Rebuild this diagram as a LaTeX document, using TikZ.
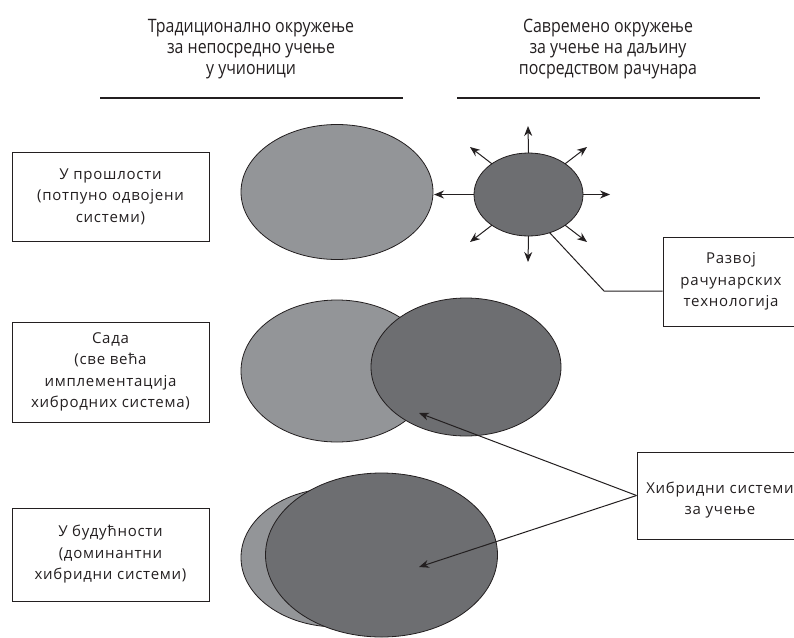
\documentclass[tikz,border=0pt]{standalone}
\usepackage{fontspec}
\setmainfont[LetterSpace=5]{Open Sans}
\newfontfamily\condfont[FakeStretch=0.86]{Open Sans}
\usetikzlibrary{arrows.meta,shapes.geometric}
\definecolor{lightg}{HTML}{939598}
\definecolor{darkg}{HTML}{6D6E71}
\definecolor{ink}{HTML}{231F20}
\tikzset{
  box/.style={draw=ink, line width=0.9pt, rectangle, inner sep=0pt, align=center, text=ink,
    font=\fontsize{15}{21.5}\selectfont},
  hdr/.style={align=center, text=ink, font=\condfont\fontsize{18.5}{21}\selectfont},
  ell/.style={draw=ink, line width=0.8pt, ellipse, inner sep=0pt, outer sep=0pt},
  arr/.style={draw=ink, line width=1pt, -{Stealth[length=10pt,width=8pt]}},
  conn/.style={draw=ink, line width=1pt}
}
\begin{document}
\begin{tikzpicture}[x=1pt,y=-1pt]
\useasboundingbox (0,0) rectangle (794,637);
\clip (0,0) rectangle (794,637);
% headers
\node[hdr] (h1) at (251,49) {Традиционално окружење\\за непосредно учење\\у учионици};
\node[hdr] (h2) at (608,49) {Савремено окружење\\за учење на даљину\\посредством рачунара};
\coordinate (l1a) at (100,98); \coordinate (l1b) at (403,98);
\coordinate (l2a) at (457,98); \coordinate (l2b) at (760,98);
\draw[conn, line width=1.2pt] (l1a) -- (l1b);
\draw[conn, line width=1.2pt] (l2a) -- (l2b);
% left boxes
\node[box, minimum width=197, minimum height=89] (b1) at (110.5,196.5) {У прошлости\\(потпуно одвојени\\системи)};
\node[box, minimum width=197, minimum height=100] (b2) at (110.5,372) {Сада\\(све већа\\имплементација\\хибродних система)};
\node[box, minimum width=197, minimum height=93] (b3) at (110.5,554.5) {У будућности\\(доминантни\\хибридни системи)};
% row 1
\node[ell, fill=lightg, minimum width=192, minimum height=135] (e1) at (337,192) {};
\node[ell, fill=darkg, minimum width=109, minimum height=83] (s) at (528.5,194.5) {};
\coordinate (tu) at (528,126);
\coordinate (td) at (528,262);
\coordinate (tl) at (434,194.5);
\coordinate (tr) at (610,194.5);
\coordinate (tne) at (587,147);
\coordinate (tnw) at (470,147);
\coordinate (tse) at (587,242);
\coordinate (tsw) at (470,242);
\draw[arr] (s.north) -- (tu);
\draw[arr] (s.south) -- (td);
\draw[arr] (s.west) -- (tl);
\draw[arr] (s.east) -- (tr);
\draw[arr] (s.40) -- (tne);
\draw[arr] (s.140) -- (tnw);
\draw[arr] (s.-40) -- (tse);
\draw[arr] (s.-140) -- (tsw);
\node[box, minimum width=136, minimum height=89] (rt) at (731,281.5) {Развој\\рачунарских\\технологија};
\coordinate (bend) at (604,291);
\draw[conn] (s.-61) -- (bend) -- (bend -| rt.west);
% row 2
\node[ell, fill=lightg, minimum width=192, minimum height=142] (e2a) at (337,371) {};
\node[ell, fill=darkg, minimum width=190, minimum height=138] (e2b) at (466,367) {};
% row 3
\node[ell, fill=lightg, minimum width=192, minimum height=139] (e3a) at (337,557.5) {};
\node[ell, fill=darkg, minimum width=232, minimum height=164] (e3b) at (381.5,555) {};
% hybrid box
\node[box, minimum width=166, minimum height=87] (hb) at (720,495.5) {};
\node[text=ink, align=center, font=\fontsize{15}{21}\selectfont] (hbt) at (720,500) {Хибридни системи\\за учење};
\coordinate (t1) at (419,413);
\coordinate (t2) at (419,567);
\draw[arr] (hb.west) -- (t1);
\draw[arr] (hb.west) -- (t2);
\end{tikzpicture}
\end{document}
